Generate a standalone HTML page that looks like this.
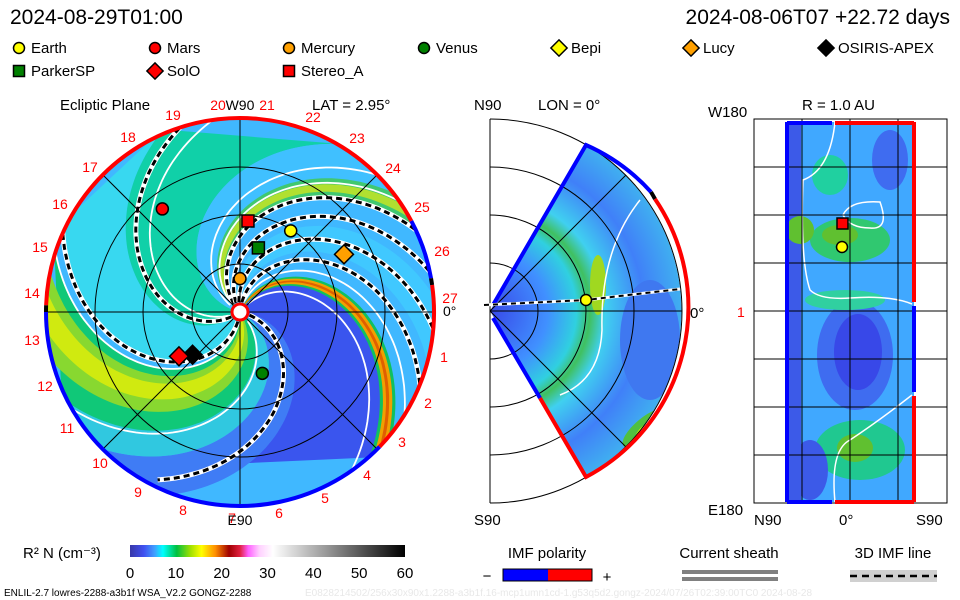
<!DOCTYPE html>
<html><head><meta charset="utf-8">
<style>
html,body{margin:0;padding:0;background:#fff;}
svg{display:block;font-family:"Liberation Sans",sans-serif;}
</style></head>
<body>
<svg id="root" width="960" height="600" viewBox="0 0 960 600" xmlns="http://www.w3.org/2000/svg">
<defs>
  <clipPath id="discClip"><circle cx="240" cy="312" r="193"/></clipPath>
  <clipPath id="wedgeClip"><path d="M490,311 L586,145 A192,192 0 0 1 586,477 Z"/></clipPath>
  <clipPath id="rectClip"><rect x="787" y="122" width="127" height="380"/></clipPath>
  <linearGradient id="cbar" x1="0" x2="1" y1="0" y2="0">
    <stop offset="0" stop-color="#3838a8"/>
    <stop offset="0.05" stop-color="#4050f0"/>
    <stop offset="0.09" stop-color="#40a0ff"/>
    <stop offset="0.12" stop-color="#00ffff"/>
    <stop offset="0.17" stop-color="#00c040"/>
    <stop offset="0.22" stop-color="#a0e000"/>
    <stop offset="0.26" stop-color="#ffff00"/>
    <stop offset="0.31" stop-color="#ff9000"/>
    <stop offset="0.36" stop-color="#a00000"/>
    <stop offset="0.40" stop-color="#e02040"/>
    <stop offset="0.43" stop-color="#ff60ff"/>
    <stop offset="0.47" stop-color="#ffd0ff"/>
    <stop offset="0.52" stop-color="#ffffff"/>
    <stop offset="1" stop-color="#000000"/>
  </linearGradient>
  <radialGradient id="wedgeGrad" cx="490" cy="311" r="192" gradientUnits="userSpaceOnUse">
    <stop offset="0" stop-color="#3848e8"/>
    <stop offset="0.3" stop-color="#4090ff"/>
    <stop offset="0.45" stop-color="#30d0e0"/>
    <stop offset="0.52" stop-color="#40c060"/>
    <stop offset="0.6" stop-color="#40d0f0"/>
    <stop offset="0.8" stop-color="#4080f8"/>
    <stop offset="1" stop-color="#40b0f0"/>
  </radialGradient>
</defs>

<text x="10" y="24" font-size="21" fill="#000">2024-08-29T01:00</text>
<text x="950" y="24" font-size="21" fill="#000" text-anchor="end">2024-08-06T07 +22.72 days</text>

<g id="legend" font-size="15"></g>

<g id="ecliptic">
  <text x="60" y="110" font-size="15">Ecliptic Plane</text>
  <text x="312" y="110" font-size="15">LAT = 2.95°</text>
  <g clip-path="url(#discClip)" id="disc">
    <circle cx="240" cy="312" r="194" fill="#40b8ff"/>
  </g>
  <g id="eclGrid" stroke="#000" stroke-width="1" fill="none">
    <circle cx="240" cy="312" r="48"/>
    <circle cx="240" cy="312" r="97"/>
    <circle cx="240" cy="312" r="145"/>
    <line x1="46" y1="312" x2="434" y2="312"/>
    <line x1="240" y1="117" x2="240" y2="506"/>
    <line x1="103" y1="175" x2="377" y2="449"/>
    <line x1="103" y1="449" x2="377" y2="175"/>
  </g>
  <g id="ring"></g>
  <g id="eclLabels" font-size="14" fill="#ff0000"></g>
  <text x="240" y="110" font-size="14" text-anchor="middle">W90</text>
  <text x="240" y="525" font-size="14" text-anchor="middle">E90</text>
  <text x="443" y="316" font-size="14">0°</text>
  <circle cx="240" cy="312" r="8" fill="#fff" stroke="#f00" stroke-width="3"/>
  <g id="eclMarkers"></g>
</g>

<g id="meridional">
  <text x="474" y="110" font-size="15">N90</text>
  <text x="538" y="110" font-size="15">LON = 0°</text>
  <text x="474" y="525" font-size="15">S90</text>
  <text x="690" y="318" font-size="15">0°</text>
  <g clip-path="url(#wedgeClip)">
    <path d="M490,311 L586,145 A192,192 0 0 1 586,477 Z" fill="url(#wedgeGrad)"/>
    <ellipse cx="650" cy="340" rx="30" ry="60" fill="#3f78f0"/>
    <ellipse cx="645" cy="428" rx="28" ry="10" fill="#50c040" transform="rotate(-40 645 428)"/>
    <ellipse cx="648" cy="428" rx="16" ry="5" fill="#e0f000" transform="rotate(-40 648 428)"/>
    <ellipse cx="598" cy="285" rx="8" ry="30" fill="#a0d820"/>
    <path d="M560,395 Q600,380 602,330 Q600,250 640,200" fill="none" stroke="#fff" stroke-width="1.5"/>
  </g>
  <g stroke="#000" fill="none" stroke-width="1">
    <line x1="490" y1="119" x2="490" y2="503"/>
    <path d="M490,263 A48,48 0 0 1 490,359"/>
    <path d="M490,215 A96,96 0 0 1 490,407"/>
    <path d="M490,167 A144,144 0 0 1 490,455"/>
    <path d="M490,119 A192,192 0 0 1 490,503"/>
    <line x1="490" y1="311" x2="682" y2="311"/>
    <line x1="490" y1="311" x2="626" y2="175"/>
    <line x1="490" y1="311" x2="626" y2="447"/>
  </g>
  <g fill="none" stroke-width="4">
    <path d="M493,305 L586,145 A192,192 0 0 1 651,192" stroke="#0000ff"/>
    <path d="M651,192 A192,192 0 0 1 655,199" stroke="#000"/>
    <path d="M655,199 A192,192 0 0 1 586,477 L540,398" stroke="#ff0000"/>
    <path d="M540,398 L493,318" stroke="#0000ff"/>
  </g>
  <path d="M484,305 L586,300 L680,289" fill="none" stroke="#fff" stroke-width="3"/>
  <path d="M484,305 L586,300 L680,289" fill="none" stroke="#000" stroke-width="2" stroke-dasharray="5 4"/>
  <circle cx="586" cy="300" r="5.5" fill="#ffff00" stroke="#000" stroke-width="1.5"/>
</g>

<g id="rpanel">
  <text x="802" y="110" font-size="15">R = 1.0 AU</text>
  <text x="708" y="117" font-size="15">W180</text>
  <text x="708" y="515" font-size="15">E180</text>
  <text x="754" y="525" font-size="15">N90</text>
  <text x="839" y="525" font-size="15">0°</text>
  <text x="916" y="525" font-size="15">S90</text>
  <text x="737" y="317" font-size="14" fill="#ff0000">1</text>
  <g clip-path="url(#rectClip)">
    <rect x="787" y="122" width="127" height="380" fill="#40a8ff"/>
    <rect x="787" y="122" width="14" height="380" fill="#3c5ae8"/>
    <ellipse cx="855" cy="355" rx="38" ry="55" fill="#3f6cf0"/>
    <ellipse cx="858" cy="352" rx="24" ry="38" fill="#3848e8"/>
    <ellipse cx="890" cy="160" rx="18" ry="30" fill="#3f6cf0"/>
    <ellipse cx="830" cy="175" rx="18" ry="20" fill="#20d0a0"/>
    <ellipse cx="850" cy="240" rx="40" ry="22" fill="#30c870"/>
    <ellipse cx="840" cy="235" rx="18" ry="10" fill="#60c030"/>
    <ellipse cx="800" cy="230" rx="14" ry="14" fill="#60c030"/>
    <ellipse cx="845" cy="300" rx="40" ry="10" fill="#30d0a0"/>
    <ellipse cx="860" cy="450" rx="45" ry="30" fill="#20c890"/>
    <ellipse cx="855" cy="448" rx="18" ry="14" fill="#60c030"/>
    <ellipse cx="810" cy="470" rx="18" ry="30" fill="#3c5ae8"/>
    <path d="M835,122 Q830,170 803,180 Q800,260 810,290 Q820,300 850,298 Q890,295 912,304" fill="none" stroke="#fff" stroke-width="1.5"/>
    <path d="M843,215 Q850,200 880,202 Q890,230 870,228 Q850,228 843,215" fill="none" stroke="#fff" stroke-width="1.5"/>
    <path d="M835,502 Q830,450 850,440 Q880,420 912,395" fill="none" stroke="#fff" stroke-width="1.5"/>
  </g>
  <g stroke="#000" stroke-width="1" fill="none" id="rgrid">
    <rect x="754" y="119" width="193" height="384"/>
  </g>
  <g fill="none" stroke-width="4">
    <line x1="787" y1="122" x2="787" y2="502" stroke="#0000ff"/>
    <line x1="787" y1="123" x2="832" y2="123" stroke="#0000ff"/>
    <line x1="835" y1="123" x2="914" y2="123" stroke="#ff0000"/>
    <line x1="787" y1="502" x2="832" y2="502" stroke="#0000ff"/>
    <line x1="835" y1="502" x2="914" y2="502" stroke="#ff0000"/>
    <line x1="914" y1="122" x2="914" y2="302" stroke="#ff0000"/>
    <line x1="914" y1="306" x2="914" y2="392" stroke="#0000ff"/>
    <line x1="914" y1="396" x2="914" y2="502" stroke="#ff0000"/>
  </g>
  <rect x="837" y="218" width="11" height="11" fill="#ff0000" stroke="#000" stroke-width="1.5"/>
  <circle cx="842" cy="247" r="5.5" fill="#ffff00" stroke="#000" stroke-width="1.5"/>
</g>

<g>
  <text x="23" y="558" font-size="15">R² N (cm⁻³)</text>
  <rect x="130" y="545" width="275" height="12" fill="url(#cbar)"/>
  <g id="cbTicks" font-size="15" text-anchor="middle"></g>
</g>

<g>
  <text x="547" y="558" font-size="15" text-anchor="middle">IMF polarity</text>
  <text x="487" y="581" font-size="15" text-anchor="middle">−</text>
  <rect x="503" y="569" width="45" height="12" fill="#0000ff"/>
  <rect x="548" y="569" width="44" height="12" fill="#ff0000"/>
  <rect x="503" y="569" width="89" height="12" fill="none" stroke="#000" stroke-width="1"/>
  <text x="607" y="582" font-size="15" text-anchor="middle">+</text>
</g>
<g>
  <text x="729" y="558" font-size="15" text-anchor="middle">Current sheath</text>
  <rect x="682" y="570" width="96" height="4" fill="#808080"/>
  <rect x="682" y="577" width="96" height="4" fill="#808080"/>
</g>
<g>
  <text x="893" y="558" font-size="15" text-anchor="middle">3D IMF line</text>
  <rect x="850" y="570" width="87" height="12" fill="#d0d0d0"/>
  <line x1="850" y1="576" x2="937" y2="576" stroke="#000" stroke-width="2.5" stroke-dasharray="7 5"/>
</g>

<text x="4" y="596" font-size="10">ENLIL-2.7 lowres-2288-a3b1f WSA_V2.2 GONGZ-2288</text>
<text x="305" y="596" font-size="10" fill="#e8e8e8">E0828214502/256x30x90x1.2288-a3b1f.16-mcp1umn1cd-1.g53q5d2.gongz-2024/07/26T02:39:00TC0   2024-08-28</text>
</svg>
<script>
const NS = "http://www.w3.org/2000/svg";
const legendNames = ["Earth","Mars","Mercury","Venus","Bepi","Lucy","OSIRIS-APEX","ParkerSP","SolO","Stereo_A"];
const legendShapes = ["circle","circle","circle","circle","diamond","diamond","diamond","square","diamond","square"];
const legendColors = ["#ffff00","#ff0000","#ffa000","#008000","#ffff00","#ffa000","#000000","#008000","#ff0000","#ff0000"];
const bodyNames = ["Earth","Mars","Mercury","Venus","Lucy","OSIRIS-APEX","SolO","ParkerSP","Stereo_A"];
const bodyR = [0.66, 0.89, 0.23, 0.45, 0.82, 0.44, 0.52, 0.46, 0.63];
const bodyAng = [-58, -127, -90, 70, -29, 138, 144, -74, -85];
const cbTicks = [0,10,20,30,40,50,60];
const sectorStart = [45,110,38,40,42,135,152,165,174,205,245,300,322,326,-5];
const sectorEnd   = [125,135,48,46,44,152,198,192,186,245,300,322,335,331,15];
const sectorColor = ["#3a55ee","#3f7cf5","#10c060","#f0a000","#e06000","#30c8e0","#10c878","#88d830","#d0ea10","#38d8f0","#10d0a8","#40c0ff","#40c870","#b0e030","#40c8ff"];
const imfLineAngles = [204,252,120,-25,-12,5,22];
const contourAngles = [150,198,55,32,-35,262,-45];
const ringStart = [-28,-10,-8,44,180,182];
const ringEnd   = [-10,-8,44,180,182,332];
const ringColor = ["#0000ff","#000000","#ff0000","#0000ff","#000000","#ff0000"];
const lonLabels = ["19","20","21","22","23","24","25","26","27","1","2","3","4","5","6","7","8","9","10","11","12","13","14","15","16","17","18"];
const lonLabelX = [173,218,267,313,357,393,422,442,450,444,428,402,367,325,279,232,183,138,100,67,45,32,32,40,60,90,128];
const lonLabelY = [115,105,105,117,138,168,207,251,298,357,403,442,475,498,513,518,510,492,463,428,386,340,293,247,204,167,137];

const CX=240, CY=312, R=194, K=0.55, AU=145;
function spiralPt(thOuter, r){
  const th = (thOuter - K*(R - r)) * Math.PI/180;
  return [CX + r*Math.cos(th), CY + r*Math.sin(th)];
}
function spiralD(thOuter, r0, r1){
  let d="";
  for(let r=r0; r<=r1; r+=3){
    const p=spiralPt(thOuter,r);
    d += (d?"L":"M")+p[0].toFixed(1)+","+p[1].toFixed(1);
  }
  return d;
}
function el(tag, attrs, parent){
  const e=document.createElementNS(NS,tag);
  for(const k in attrs) e.setAttribute(k, attrs[k]);
  parent.appendChild(e);
  return e;
}
function marker(shape, x, y, color, parent, s){
  if(shape==="circle") return el("circle",{cx:x,cy:y,r:s,fill:color,stroke:"#000","stroke-width":1.5},parent);
  if(shape==="square") return el("rect",{x:x-s,y:y-s,width:2*s,height:2*s,fill:color,stroke:"#000","stroke-width":1.5},parent);
  const t=s*1.35;
  return el("path",{d:`M${x},${y-t}L${x+t},${y}L${x},${y+t}L${x-t},${y}Z`,fill:color,stroke:"#000","stroke-width":1.5},parent);
}

const lg=document.getElementById("legend");
const legX=[12,148,282,417,552,684,819,12,148,282];
const legY=[48,48,48,48,48,48,48,71,71,71];
legendNames.forEach((n,i)=>{
  const g=el("g",{},lg);
  
  
  marker(legendShapes[i], legX[i]+7, legY[i], legendColors[i], g, legendShapes[i]==="diamond"?6:5.5);
  const t=el("text",{x:legX[i]+19,y:legY[i]+5},g);
  t.textContent=n;
});

const disc=document.getElementById("disc");
sectorStart.forEach((a,i)=>{
  const b=sectorEnd[i];
  let d=spiralD(a,0,200);
  let back="";
  for(let r=200;r>=0;r-=3){const p=spiralPt(b,r);back+="L"+p[0].toFixed(1)+","+p[1].toFixed(1);}
  const p=el("path",{d:d+back+"Z",fill:sectorColor[i]},disc);
  
  
});
contourAngles.forEach(a=>{
  const p=el("path",{d:spiralD(a,12,200),fill:"none",stroke:"#fff","stroke-width":1.8},disc);
  
  
});
imfLineAngles.forEach((a,i)=>{
  const rmax = i===2?188:200;
  const d=spiralD(a,10,rmax);
  const w=el("path",{d:d,fill:"none",stroke:"#fff","stroke-width":5},disc);
  
  
  const b=el("path",{d:d,fill:"none",stroke:"#000","stroke-width":3,"stroke-dasharray":"6 4"},disc);
  
  
});

const ring=document.getElementById("ring");
ringStart.forEach((a,i)=>{
  const b=ringEnd[i];
  const r=194;
  const p1=[CX+r*Math.cos(a*Math.PI/180),CY+r*Math.sin(a*Math.PI/180)];
  const p2=[CX+r*Math.cos(b*Math.PI/180),CY+r*Math.sin(b*Math.PI/180)];
  const large=(b-a)>180?1:0;
  const p=el("path",{d:`M${p1[0]},${p1[1]}A${r},${r} 0 ${large} 1 ${p2[0]},${p2[1]}`,fill:"none",stroke:ringColor[i],"stroke-width":4},ring);
  
  
});

const ll=document.getElementById("eclLabels");
lonLabels.forEach((s,i)=>{
  const t=el("text",{x:lonLabelX[i],y:lonLabelY[i]+5,"text-anchor":"middle"},ll);
  t.textContent=s;
  
  
});

const bm=document.getElementById("eclMarkers");
bodyNames.forEach((n,i)=>{
  const j=legendNames.indexOf(n);
  const a=bodyAng[i]*Math.PI/180;
  const x=CX+bodyR[i]*AU*Math.cos(a), y=CY+bodyR[i]*AU*Math.sin(a);
  const m=marker(legendShapes[j],x,y,legendColors[j],bm,legendShapes[j]==="diamond"?7:6);
  
  
});

const rg=document.getElementById("rgrid");
[802,850,898].forEach(x=>el("line",{x1:x,y1:119,x2:x,y2:503},rg));
[167,215,263,311,359,407,455].forEach(y=>el("line",{x1:754,y1:y,x2:947,y2:y},rg));

const cb=document.getElementById("cbTicks");
cbTicks.forEach(v=>{
  const x=130+v/60*275;
  const t=el("text",{x:x,y:578},cb);
  t.textContent=v;
  
  
});
</script>
</body></html>
